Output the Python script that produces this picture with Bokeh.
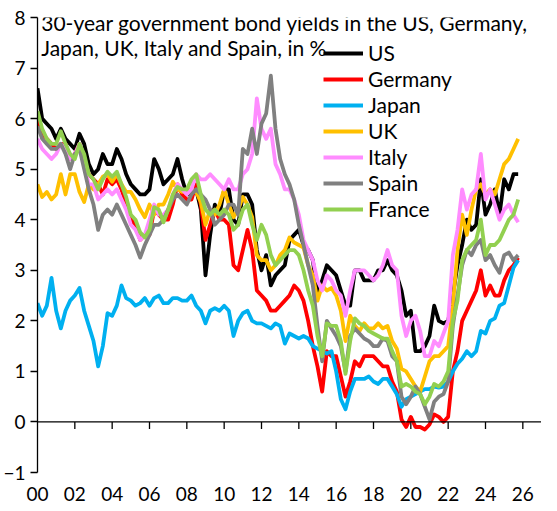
from bokeh.plotting import figure
from bokeh.models import FixedTicker, Span, Label, Legend, LegendItem
from bokeh.embed import file_html
from bokeh.resources import INLINE

# quarterly observations, 2000 Q1 .. 2025 Q4 (decimal years)
years = [2000 + i * 0.25 for i in range(104)]

us = [6.6, 6.0, 5.9, 5.8,  5.6, 5.8, 5.6, 5.5,  5.4, 5.7, 5.5, 5.1,  4.9, 5.0, 5.3, 5.1,
      5.1, 5.4, 5.2, 4.9,  4.7, 4.6, 4.5, 4.5,  4.6, 5.2, 5.0, 4.7,  4.8, 4.9, 5.2, 4.8,
      4.5, 4.5, 4.6, 4.2,  2.9, 3.7, 4.3, 4.1,  4.6, 4.6, 4.0, 3.9,  4.5, 4.5, 4.3, 3.4,
      3.0, 3.3, 2.7, 2.9,  3.0, 3.1, 3.6, 3.7,  3.8, 3.5, 3.4, 3.2,  2.5, 2.8, 3.1, 3.0,
      2.9, 2.6, 2.3, 2.3,  3.0, 3.0, 2.8, 2.8,  2.8, 3.0, 3.0, 3.2,  3.0, 2.9, 2.6, 2.1,
      2.2, 1.4, 1.4, 1.5,  1.7, 2.3, 2.0, 1.95, 2.0, 2.5, 3.1, 3.5,  4.0, 3.8, 3.9, 4.8,
      4.1, 4.3, 4.6, 4.1,  4.8, 4.6, 4.9, 4.9]
germany = [6.0, 5.7, 5.6, 5.5,  5.4, 5.5, 5.5, 5.2,  5.3, 5.5, 5.2, 4.9,  4.8, 4.7, 4.5, 4.8,
           4.7, 4.8, 4.6, 4.3,  4.0, 3.9, 3.6, 3.7,  3.7, 4.2, 4.1, 4.0,  4.0, 4.3, 4.7, 4.5,
           4.4, 4.4, 4.7, 4.3,  3.6, 3.9, 4.2, 4.0,  4.0, 3.9, 3.1, 3.0,  3.4, 3.8, 3.4, 2.6,
           2.5, 2.4, 2.2, 2.2,  2.3, 2.4, 2.5, 2.7,  2.6, 2.4, 2.0, 1.5,  1.1, 0.6, 1.4, 1.3,
           1.3, 0.9, 0.5, 0.8,  1.2, 1.1, 1.3, 1.3,  1.3, 1.2, 1.1, 1.1,  0.8, 0.6, 0.05, -0.1,
           0.1, -0.1, -0.1, -0.15, -0.05, 0.15, 0.1, 0.0,  0.1, 1.0, 1.4, 2.0,  2.2, 2.4, 2.6, 3.0,
           2.5, 2.7, 2.5, 2.5,  2.8, 3.0, 3.1, 3.25]
japan = [2.35, 2.1, 2.3, 2.85,  2.2, 1.85, 2.2, 2.4,  2.5, 2.65, 2.2, 1.9,  1.6, 1.1, 1.5, 2.15,
         2.1, 2.3, 2.7, 2.45,  2.4, 2.3, 2.35, 2.45,  2.3, 2.45, 2.5, 2.35,  2.35, 2.45, 2.45, 2.4,
         2.4, 2.5, 2.3, 2.2,  1.95, 2.2, 2.25, 2.2,  2.3, 2.2, 1.7, 2.0,  2.15, 2.2, 2.0, 1.95,
         1.95, 1.9, 1.85, 1.95,  1.9, 1.55, 1.75, 1.7,  1.65, 1.7, 1.65, 1.5,  1.45, 1.4, 1.35, 1.4,
         1.0, 0.45, 0.25, 0.6,  0.85, 0.85, 0.85, 0.9,  0.8, 0.75, 0.85, 0.85,  0.7, 0.55, 0.3, 0.45,
         0.5, 0.55, 0.6, 0.65,  0.65, 0.7, 0.68, 0.7,  0.8, 1.0, 1.15, 1.25,  1.4, 1.3, 1.4, 1.8,
         1.75, 2.0, 2.05, 2.3,  2.35, 2.7, 3.05, 3.2]
uk = [4.7, 4.45, 4.55, 4.4,  4.5, 4.9, 4.5, 4.9,  4.9, 4.55, 4.35, 4.7,  4.6, 4.7, 4.85, 4.9,
      4.75, 4.9, 4.7, 4.55,  4.55, 4.4, 4.2, 4.05,  4.3, 4.1, 4.3, 4.3,  4.5, 4.75, 4.6, 4.55,
      4.6, 4.6, 4.55, 4.35,  3.9, 4.2, 4.1, 4.3,  4.6, 4.3, 4.05, 4.2,  4.45, 4.3, 4.05, 3.3,
      3.2, 3.2, 3.0, 3.1,  3.3, 3.4, 3.65, 3.55,  3.5, 3.45, 3.1, 2.9,  2.4, 2.7, 2.6, 2.65,
      2.5, 2.2, 1.6, 2.1,  1.9, 1.8, 1.95, 1.85,  1.85, 1.95, 1.85, 1.9,  1.6, 1.45, 1.05, 1.0,
      0.85, 0.7, 0.6, 0.9,  1.2, 1.3, 1.3, 1.4,  1.5, 2.3, 3.4, 4.1,  3.7, 4.2, 4.6, 4.7,
      4.5, 4.6, 4.5, 4.8,  5.1, 5.2, 5.4, 5.6]
italy = [5.6, 5.4, 5.3, 5.2,  5.3, 5.5, 5.4, 5.2,  5.3, 5.5, 5.1, 4.7,  4.7, 4.4, 4.5, 4.6,
         4.5, 4.6, 4.4, 4.2,  3.9, 3.8, 3.6, 3.7,  4.0, 4.3, 4.1, 4.1,  4.2, 4.5, 4.7, 4.6,
         4.5, 4.6, 4.9, 4.8,  4.8, 4.9, 4.8, 4.7,  4.6, 4.8, 4.6, 4.6,  4.9, 5.0, 5.3, 6.4,
         5.8, 5.6, 5.8, 5.1,  4.9, 4.6, 4.6, 4.4,  4.1, 3.6, 3.4, 3.2,  2.8, 2.6, 2.9, 2.8,
         2.6, 2.5, 2.1, 2.6,  3.0, 3.0, 3.0, 2.9,  2.8, 2.9, 3.1, 3.4,  3.1, 3.0, 2.1, 1.7,
         2.0, 2.1, 1.8, 1.3,  1.3, 1.6, 1.5, 1.75,  2.0, 3.3, 3.8, 4.6,  4.2, 4.5, 4.6, 5.3,
         4.4, 4.6, 4.3, 4.0,  4.2, 4.3, 4.1, 3.95]
spain = [5.85, 5.6, 5.5, 5.4,  5.4, 5.5, 5.3, 5.0,  5.3, 5.4, 5.0, 4.6,  4.3, 3.8, 4.1, 4.2,
         4.1, 4.3, 4.1, 3.9,  3.7, 3.5, 3.25, 3.5,  3.7, 3.9, 3.9, 4.0,  4.2, 4.4, 4.5, 4.4,
         4.3, 4.5, 4.6, 4.5,  4.4, 4.2, 3.9, 4.0,  4.1, 4.3, 4.3, 4.1,  5.4, 5.3, 5.8, 5.3,
         5.9, 6.1, 6.85, 5.8,  5.2, 4.9, 4.7, 4.4,  3.9, 3.5, 3.1, 2.7,  1.9, 1.2, 2.0, 1.85,
         1.7, 1.5, 1.0, 1.7,  1.85, 1.75, 1.65, 1.6,  1.5, 1.5, 1.65, 1.6,  1.3, 1.2, 0.5, 0.35,
         0.5, 0.7, 0.55, 0.3,  0.05, 0.4, 0.5, 0.55,  0.8, 1.9, 2.5, 3.1,  3.4, 3.3, 3.5, 3.6,
         3.2, 3.3, 3.1, 2.95,  3.3, 3.35, 3.2, 3.3]
france = [6.15, 5.8, 5.6, 5.5,  5.5, 5.75, 5.5, 5.3,  5.2, 5.5, 5.3, 4.9,  4.8, 4.6, 4.8, 4.95,
          4.85, 4.95, 4.7, 4.45,  4.1, 4.0, 3.75, 3.65,  3.8, 4.25, 4.2, 3.95,  4.2, 4.5, 4.65, 4.6,
          4.6, 4.8, 4.9, 4.5,  4.2, 4.1, 4.2, 4.1,  4.2, 4.1, 3.8, 3.9,  4.2, 4.3, 3.9, 3.6,
          3.9, 3.7, 3.3, 3.1,  3.2, 3.3, 3.4, 3.4,  3.3, 3.0, 2.6, 2.3,  1.7, 1.3, 1.95, 1.9,
          1.9, 1.6, 0.95, 1.6,  2.05, 1.95, 1.9, 1.8,  1.75, 1.7, 1.65, 1.65,  1.4, 1.2, 0.7, 0.75,
          0.7, 0.6, 0.55, 0.35,  0.5, 0.75, 0.7, 0.8,  1.0, 2.0, 2.4, 3.2,  3.4, 3.5, 3.6, 4.0,
          3.3, 3.5, 3.5, 3.6,  3.8, 4.0, 4.1, 4.4]

series_names = ["US", "Germany", "Japan", "UK", "Italy", "Spain", "France"]
series_values = [us, germany, japan, uk, italy, spain, france]
series_colors = ["#000000", "#FF0000", "#00B0F0", "#FFC000", "#FF8CFF", "#808080", "#92D050"]

y_ticks = [-1, 0, 1, 2, 3, 4, 5, 6, 7, 8]
x_ticks = [2000, 2002, 2004, 2006, 2008, 2010, 2012, 2014, 2016, 2018, 2020, 2022, 2024, 2026]
x_tick_labels = ["00", "02", "04", "06", "08", "10", "12", "14", "16", "18", "20", "22", "24", "26"]
title_lines = ["30-year government bond yields in the US, Germany,",
               "Japan, UK, Italy and Spain, in %"]

FONT = "Lato"

p = figure(width=541, height=510, x_range=(2000, 2027), y_range=(-1, 8),
           min_border_left=29, min_border_right=0, min_border_top=17, min_border_bottom=38,
           output_backend="svg", toolbar_location=None)
p.outline_line_color = None
p.xgrid.visible = False
p.ygrid.visible = False
p.background_fill_color = "white"
p.border_fill_color = "white"

ya = p.yaxis[0]
ya.axis_label = None
ya.axis_label_standoff = 0
ya.ticker = FixedTicker(ticks=y_ticks)
ya.axis_line_color = "#000000"
ya.axis_line_width = 1.3
ya.major_tick_line_color = "#000000"
ya.major_tick_line_width = 1.3
ya.major_tick_out = 7
ya.major_tick_in = 0
ya.minor_tick_line_color = None
ya.minor_tick_out = 0
ya.minor_tick_in = 0
ya.major_label_standoff = 5
ya.major_label_text_font = FONT
ya.major_label_text_font_size = "19px"
ya.major_label_text_color = "#000000"

xa = p.xaxis[0]
xa.axis_label = None
xa.axis_label_standoff = 0
xa.ticker = FixedTicker(ticks=x_ticks)
xa.major_label_overrides = {t: l for t, l in zip(x_ticks, x_tick_labels)}
xa.axis_line_color = None
xa.major_tick_line_color = None
xa.major_tick_out = 0
xa.major_tick_in = 0
xa.minor_tick_line_color = None
xa.minor_tick_out = 0
xa.minor_tick_in = 0
xa.major_label_standoff = 14
xa.major_label_text_font = FONT
xa.major_label_text_font_size = "19px"
xa.major_label_text_color = "#000000"

# the horizontal axis line is drawn at y = 0, with its ticks pointing down
p.add_layout(Span(location=0, dimension="width", line_color="#000000", line_width=1.3))
p.segment(x0=x_ticks[1:], y0=[0] * (len(x_ticks) - 1), x1=x_ticks[1:],
          y1=[-0.14] * (len(x_ticks) - 1), line_color="#000000", line_width=1.3)

items = []
for name, vals, col in zip(series_names, series_values, series_colors):
    r = p.line(years, vals, line_color=col, line_width=3.8, line_join="round")
    items.append(LegendItem(label=name, renderers=[r]))

legend = Legend(items=items, location=(286, 251), orientation="vertical",
                glyph_width=40, glyph_height=22, label_height=22, spacing=1,
                label_standoff=5, padding=0, margin=0,
                border_line_color=None, background_fill_alpha=0,
                label_text_font=FONT, label_text_font_size="21px",
                label_text_color="#000000")
p.add_layout(legend, "center")

baseline_1 = 7.9
line_gap = 0.49
for i, line in enumerate(title_lines):
    p.add_layout(Label(x=2000.2, y=baseline_1 - i * line_gap, text=line, text_font=FONT,
                       text_font_size="21px", text_color="#000000",
                       text_baseline="alphabetic", text_align="left"))

open("out.html", "w").write(file_html(p, INLINE))
